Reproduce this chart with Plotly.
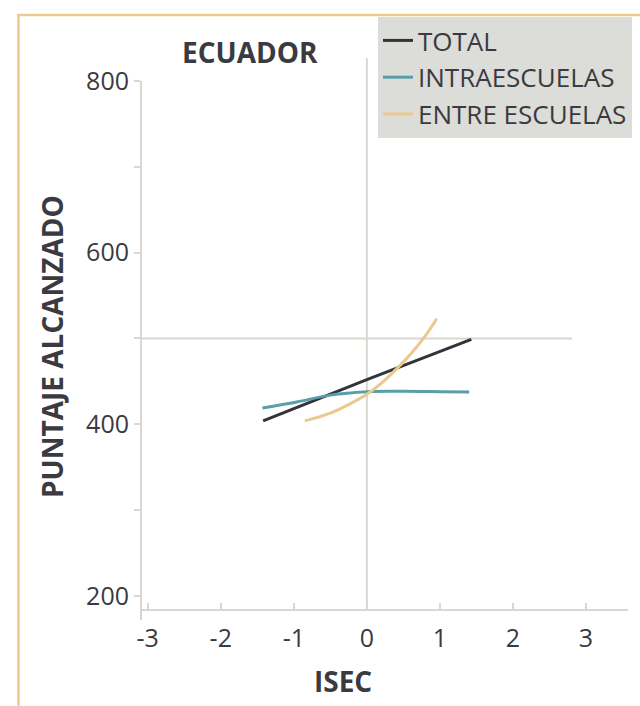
import plotly.graph_objects as go

# ---- data ---------------------------------------------------------------
series_names = ["TOTAL", "INTRAESCUELAS", "ENTRE ESCUELAS"]

total_isec = [-1.42, 0.0, 1.43]
total_score = [404, 452, 499]

intra_isec = [-1.43, -0.96, -0.5, 0.0, 0.5, 1.0, 1.4]
intra_score = [419, 426, 434, 438, 438.5, 438, 437.5]

entre_isec = [-0.85, -0.5, -0.25, 0.0, 0.2, 0.376, 0.6, 0.8, 0.956]
entre_score = [404, 413, 423, 435, 448, 462, 482, 503, 523]

x_ticks = [-3, -2, -1, 0, 1, 2, 3]
y_ticks = [200, 300, 400, 500, 600, 700, 800]
y_ticktext = ["200", "", "400", "", "600", "", "800"]

# ---- styling ------------------------------------------------------------
W, H = 640, 706
M_L, M_R, M_T, M_B = 141, 12, 58, 97
X_RANGE = [-3.092, 3.575]
Y_RANGE = [184.8, 826.8]
REF_SCORE = 500
REF_LINE_END = 2.81

TEXT = "#3a3a40"
AXIS = "#d8d8d0"
FRAME = "#efca8f"
COLORS = ["#33333b", "#5a9ea9", "#ecc88e"]
FONT = "Open Sans"

plot_w = W - M_L - M_R
plot_h = H - M_T - M_B


def px(x):
    return (x - M_L) / plot_w


def py(y):
    return (H - M_B - y) / plot_h


fig = go.Figure()
for name, xs, ys, col in zip(
    series_names,
    [total_isec, intra_isec, entre_isec],
    [total_score, intra_score, entre_score],
    COLORS,
):
    fig.add_trace(
        go.Scatter(
            x=xs, y=ys, name=name, mode="lines",
            line=dict(color=col, width=3, shape="spline", smoothing=1.0),
            hoverinfo="skip",
        )
    )

shapes = [
    # reference lines
    dict(type="line", xref="x", yref="y", x0=X_RANGE[0], x1=REF_LINE_END,
         y0=REF_SCORE, y1=REF_SCORE, line=dict(color=AXIS, width=2), layer="below"),
    dict(type="line", xref="x", yref="y", x0=0, x1=0,
         y0=Y_RANGE[0], y1=Y_RANGE[1], line=dict(color=AXIS, width=2), layer="below"),
    # y axis line (runs slightly below the x axis)
    dict(type="line", xref="paper", yref="paper", x0=0, x1=0,
         y0=py(620), y1=(800 - Y_RANGE[0]) / (Y_RANGE[1] - Y_RANGE[0]),
         line=dict(color=AXIS, width=2)),
    # outer frame
    dict(type="line", xref="paper", yref="paper", x0=px(17), x1=px(650),
         y0=py(15), y1=py(15), line=dict(color=FRAME, width=2.5)),
    dict(type="line", xref="paper", yref="paper", x0=px(18.5), x1=px(18.5),
         y0=py(14), y1=py(720), line=dict(color=FRAME, width=2.5)),
]

annotations = [
    dict(text="<b>ECUADOR</b>", x=px(250), y=py(52), xref="paper", yref="paper",
         xanchor="center", yanchor="middle", showarrow=False,
         font=dict(family=FONT, size=28, color=TEXT)),
    dict(text="<b>PUNTAJE ALCANZADO</b>", x=px(52), y=py(347), xref="paper",
         yref="paper", xanchor="center", yanchor="middle", showarrow=False,
         textangle=-90, font=dict(family=FONT, size=28, color=TEXT)),
    dict(text="<b>ISEC</b>", x=px(343), y=py(681), xref="paper", yref="paper",
         xanchor="center", yanchor="middle", showarrow=False,
         font=dict(family=FONT, size=28, color=TEXT)),
]

fig.update_layout(
    width=W, height=H,
    margin=dict(l=M_L, r=M_R, t=M_T, b=M_B, pad=0, autoexpand=False),
    paper_bgcolor="white", plot_bgcolor="white",
    font=dict(family=FONT, color=TEXT),
    showlegend=True,
    legend=dict(
        x=px(378), y=py(17), xanchor="left", yanchor="top",
        bgcolor="#dcdcd8", borderwidth=0,
        font=dict(family=FONT, size=26, color=TEXT),
        itemwidth=30, tracegroupgap=0,
    ),
    shapes=shapes,
    annotations=annotations,
    xaxis=dict(
        range=X_RANGE, tickvals=x_ticks, ticktext=[str(v) for v in x_ticks],
        showgrid=False, zeroline=False,
        showline=True, linecolor=AXIS, linewidth=2,
        ticks="inside", ticklen=6, tickwidth=2, tickcolor=AXIS,
        tickfont=dict(family=FONT, size=25, color=TEXT),
        ticklabelstandoff=6,
    ),
    yaxis=dict(
        range=Y_RANGE, tickvals=y_ticks, ticktext=y_ticktext,
        showgrid=False, zeroline=False, showline=False,
        ticks="outside", ticklen=6, tickwidth=2, tickcolor=AXIS,
        tickfont=dict(family=FONT, size=25, color=TEXT),
        ticklabelstandoff=0,
    ),
)

fig.write_html("out.html")
